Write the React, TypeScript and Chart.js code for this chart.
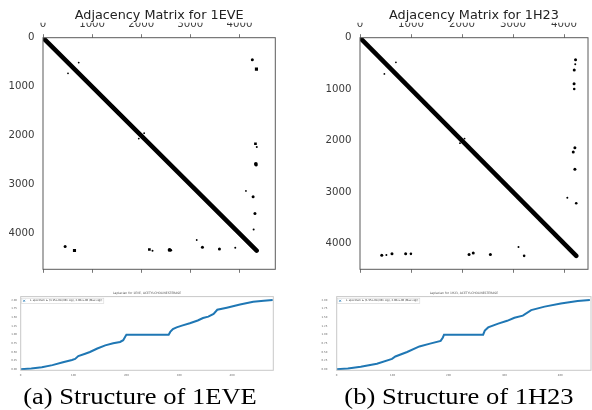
import React, { useEffect, useRef } from "react";
import { Chart, registerables } from "chart.js";

Chart.register(...registerables);

// ---------- Adjacency matrices ----------
const matrixTicks = [0, 1000, 2000, 3000, 4000];

const eveTitle = "Adjacency Matrix for 1EVE";
const eveExtent = 4730;
const eveDiagonal = [0, 4350];
const eveLinkHigh = [4262, 4346, 4326, 4353, 4334, 4340, 4132, 4278, 4316, 4289, 727, 2060];
const eveLinkLow = [451, 641, 2166, 2230, 2577, 2603, 3130, 3246, 3592, 3915, 509, 1950];
const eveLinkRadius = [1.5, 2.2, 1.9, 1, 1.9, 1.3, 0.9, 1.5, 1.5, 1, 0.9, 0.9];
const eveLinkSquare = [false, true, true, false, false, false, false, false, false, false, false, false];

const h23Title = "Adjacency Matrix for 1H23";
const h23ExtentX = 4470;
const h23ExtentY = 4500;
const h23Diagonal = [0, 4240];
const h23LinkHigh = [4226, 4220, 4200, 4197, 4200, 4213, 4181, 4213, 4065, 4239, 704, 2050];
const h23LinkLow = [427, 517, 627, 895, 998, 2138, 2220, 2556, 3108, 3218, 478, 1960];
const h23LinkRadius = [1.5, 1, 1.5, 1.5, 1.3, 1.5, 1.5, 1.5, 1, 1.3, 0.9, 0.9];
const h23LinkSquare = [false, false, false, false, false, false, false, false, false, false, false, false];

// ---------- Laplacian spectra ----------
const spectrumXTicks = [0, 100, 200, 300, 400];
const spectrumYTicks = [0, 0.25, 0.5, 0.75, 1.0, 1.25, 1.5, 1.75, 2.0];

const eveSpectrumTitle = "Laplacian for 1EVE, ACETYLCHOLINESTERASE";
const eveSpectrumLabel = "L_spectrum \u2208 [3.15e-08 (Min eig), 2.00e+00 (Max eig)]";
const eveCount = 478;
const eveIndex = [0, 20, 40, 60, 80, 97, 103, 109, 122, 131, 145, 160, 175, 188, 194, 198, 200, 280, 283, 288, 295, 305, 320, 335, 345, 355, 365, 372, 390, 415, 440, 460, 477];
const eveEigen = [0, 0.02, 0.06, 0.12, 0.2, 0.27, 0.3, 0.38, 0.45, 0.5, 0.6, 0.69, 0.75, 0.79, 0.84, 0.95, 1.0, 1.0, 1.08, 1.16, 1.21, 1.26, 1.33, 1.41, 1.48, 1.52, 1.6, 1.72, 1.78, 1.87, 1.95, 1.98, 2.0];

const h23SpectrumTitle = "Laplacian for 1H23, ACETYLCHOLINESTERASE";
const h23SpectrumLabel = "L_spectrum \u2208 [1.55e-08 (Min eig), 2.00e+00 (Max eig)]";
const h23Count = 455;
const h23Index = [0, 20, 43, 72, 99, 105, 126, 148, 167, 186, 190, 192, 262, 265, 271, 289, 305, 318, 333, 348, 372, 401, 431, 453];
const h23Eigen = [0, 0.02, 0.07, 0.16, 0.3, 0.37, 0.5, 0.66, 0.74, 0.82, 0.92, 1.0, 1.0, 1.12, 1.21, 1.32, 1.4, 1.49, 1.55, 1.71, 1.81, 1.9, 1.97, 2.0];

const captionLeft = "(a) Structure of 1EVE";
const captionRight = "(b) Structure of 1H23";

const DEJAVU = "'DejaVu Sans', sans-serif";

function makeFrame(color: string, width: number) {
  return {
    id: "frame",
    afterDatasetsDraw(chart: any) {
      const { ctx, chartArea: a } = chart;
      ctx.save();
      ctx.strokeStyle = color;
      ctx.lineWidth = width;
      ctx.strokeRect(a.left, a.top, a.right - a.left, a.bottom - a.top);
      ctx.restore();
    },
  };
}

// matplotlib-style legend inside the upper-left corner of the plot area
const insideLegend = {
  id: "insideLegend",
  afterDatasetsDraw(chart: any) {
    const { ctx, chartArea: a } = chart;
    const ds = chart.data.datasets[0];
    const text = String(ds.label);
    ctx.save();
    ctx.font = "2.6px 'DejaVu Sans', sans-serif";
    const tw = ctx.measureText(text).width;
    const bx = a.left + 0.8;
    const by = a.top + 1.6;
    const bw = tw + 10;
    const bh = 5.2;
    ctx.fillStyle = "#fff";
    ctx.strokeStyle = "#d4d4d4";
    ctx.lineWidth = 0.6;
    ctx.fillRect(bx, by, bw, bh);
    ctx.strokeRect(bx, by, bw, bh);
    const mx = bx + 2.6;
    const my = by + bh / 2;
    ctx.strokeStyle = ds.borderColor;
    ctx.lineWidth = 0.7;
    ctx.beginPath();
    ctx.moveTo(mx - 1, my - 1);
    ctx.lineTo(mx + 1, my + 1);
    ctx.moveTo(mx - 1, my + 1);
    ctx.lineTo(mx + 1, my - 1);
    ctx.stroke();
    ctx.fillStyle = "#333";
    ctx.textBaseline = "middle";
    ctx.textAlign = "left";
    ctx.fillText(text, bx + 8.5, my);
    ctx.restore();
  },
};

const setTicks = (values: number[]) => (s: any) => {
  s.ticks = values.map((v) => ({ value: v }));
};

function matrixConfig(
  title: string,
  extentX: number,
  extentY: number,
  diagonal: number[],
  high: number[],
  low: number[],
  radius: number[],
  square: boolean[],
  yAxisWidth: number,
  rightPad: number
): any {
  const pts: any[] = [];
  const radii: number[] = [];
  const styles: string[] = [];
  high.forEach((h, i) => {
    pts.push({ x: h, y: low[i] }, { x: low[i], y: h });
    radii.push(radius[i], radius[i]);
    const st = square[i] ? "rect" : "circle";
    styles.push(st, st);
  });
  const tickFont = { family: DEJAVU, size: 10.2 };
  return {
    type: "scatter",
    data: {
      datasets: [
        {
          data: diagonal.map((v) => ({ x: v, y: v })),
          showLine: true,
          borderColor: "#000",
          borderWidth: 4.5,
          borderCapStyle: "round",
          pointRadius: 0,
          clip: 0,
        },
        {
          data: pts,
          pointRadius: radii,
          pointStyle: styles,
          backgroundColor: "#000",
          borderColor: "#000",
          borderWidth: 0,
          clip: 0,
        },
      ],
    },
    options: {
      animation: false,
      responsive: false,
      devicePixelRatio: 1,
      events: [],
      layout: { padding: { left: 0, right: rightPad, top: 0, bottom: 11.7 } },
      plugins: {
        legend: { display: false },
        tooltip: { enabled: false },
        title: {
          display: true,
          text: title,
          fullSize: false,
          color: "#222",
          font: { family: DEJAVU, size: 12.8, weight: "normal" },
          padding: { top: 7.5, bottom: 0 },
        },
      },
      scales: {
        x: {
          type: "linear",
          position: "top",
          min: 0,
          max: extentX,
          afterBuildTicks: setTicks(matrixTicks),
          afterFit: (s: any) => {
            s.height = 14.84;
          },
          border: { display: false },
          grid: { drawOnChartArea: false, drawTicks: true, tickLength: 3.5, color: "#777" },
          ticks: { font: tickFont, color: "#3a3a3a", padding: 4, maxRotation: 0, autoSkip: false, callback: (v: any) => String(v) },
        },
        x2: {
          type: "linear",
          axis: "x",
          position: "bottom",
          min: 0,
          max: extentX,
          afterBuildTicks: setTicks(matrixTicks),
          afterFit: (s: any) => {
            s.height = 4;
          },
          border: { display: false },
          grid: { drawOnChartArea: false, drawTicks: true, tickLength: 3.5, color: "#777" },
          ticks: { display: false },
        },
        y: {
          type: "linear",
          reverse: true,
          min: 0,
          max: extentY,
          afterBuildTicks: setTicks(matrixTicks),
          afterFit: (s: any) => {
            s.width = yAxisWidth;
          },
          border: { display: false },
          grid: { drawOnChartArea: false, drawTicks: false },
          ticks: { font: tickFont, color: "#3a3a3a", padding: 8.5, autoSkip: false, callback: (v: any) => String(v) },
        },
      },
    },
    plugins: [makeFrame("#5a5a5a", 1)],
  };
}

function spectrumConfig(
  title: string,
  label: string,
  count: number,
  index: number[],
  eigen: number[],
  yAxisWidth: number,
  yPad: number,
  rightPad: number
): any {
  const small = { family: DEJAVU, size: 2.6 };
  return {
    type: "scatter",
    data: {
      datasets: [
        {
          label,
          data: index.map((x, i) => ({ x, y: eigen[i] })),
          showLine: true,
          borderColor: "#1f77b4",
          backgroundColor: "#1f77b4",
          borderWidth: 2,
          pointRadius: 0,
        },
      ],
    },
    options: {
      animation: false,
      responsive: false,
      devicePixelRatio: 1,
      events: [],
      layout: { padding: { left: 0, right: rightPad, top: 0, bottom: 0 } },
      plugins: {
        tooltip: { enabled: false },
        legend: { display: false },
        title: {
          display: true,
          text: title,
          fullSize: false,
          color: "#555",
          font: { family: DEJAVU, size: 3, weight: "normal" },
          padding: { top: 6.6, bottom: 1.4 },
        },
      },
      scales: {
        x: {
          type: "linear",
          min: 0,
          max: count,
          afterBuildTicks: setTicks(spectrumXTicks),
          afterFit: (s: any) => {
            s.height = 14.7;
          },
          border: { display: false },
          grid: { display: false, drawTicks: false },
          ticks: { font: small, color: "#666", padding: 3.4, maxRotation: 0, autoSkip: false, callback: (v: any) => String(v) },
        },
        y: {
          type: "linear",
          min: -0.03,
          max: 2.1,
          afterBuildTicks: setTicks(spectrumYTicks),
          afterFit: (s: any) => {
            s.width = yAxisWidth;
          },
          border: { display: false },
          grid: { display: false, drawTicks: false },
          ticks: { font: small, color: "#666", padding: yPad, autoSkip: false, callback: (v: any) => Number(v).toFixed(2) },
        },
      },
    },
    plugins: [makeFrame("#c8c8c8", 1), insideLegend],
  };
}

function ChartCanvas(props: { left: number; top: number; width: number; height: number; build: () => any }) {
  const ref = useRef<HTMLCanvasElement | null>(null);
  useEffect(() => {
    const chart = new Chart(ref.current as HTMLCanvasElement, props.build());
    return () => chart.destroy();
  }, []);
  return (
    <canvas
      ref={ref}
      width={props.width}
      height={props.height}
      style={{ position: "absolute", left: props.left, top: props.top, width: props.width, height: props.height }}
    />
  );
}

function Caption(props: { text: string; center: number }) {
  const w = 300;
  return (
    <div
      style={{
        position: "absolute",
        left: props.center - w / 2,
        top: 386,
        width: w,
        textAlign: "center",
        fontFamily: "'Liberation Serif', 'Times New Roman', serif",
        fontSize: 22.5,
        lineHeight: "22px",
        color: "#000",
        whiteSpace: "nowrap",
        transform: "scaleX(1.18)",
        transformOrigin: "center",
      }}
    >
      {props.text}
    </div>
  );
}

export default function App() {
  return (
    <div style={{ position: "fixed", left: 0, top: 0, width: 592, height: 410, background: "#fff", overflow: "hidden" }}>
      <ChartCanvas
        left={0}
        top={0}
        width={296}
        height={285}
        build={() =>
          matrixConfig(eveTitle, eveExtent, eveExtent, eveDiagonal, eveLinkHigh, eveLinkLow, eveLinkRadius, eveLinkSquare, 43, 20.7)
        }
      />
      <ChartCanvas
        left={296}
        top={0}
        width={296}
        height={285}
        build={() =>
          matrixConfig(h23Title, h23ExtentX, h23ExtentY, h23Diagonal, h23LinkHigh, h23LinkLow, h23LinkRadius, h23LinkSquare, 64, 1)
        }
      />
      <ChartCanvas
        left={0}
        top={285}
        width={296}
        height={100}
        build={() => spectrumConfig(eveSpectrumTitle, eveSpectrumLabel, eveCount, eveIndex, eveEigen, 20.7, 3.7, 22.7)}
      />
      <ChartCanvas
        left={296}
        top={285}
        width={296}
        height={100}
        build={() => spectrumConfig(h23SpectrumTitle, h23SpectrumLabel, h23Count, h23Index, h23Eigen, 40.7, 9.4, 1)}
      />
      <Caption text={captionLeft} center={140} />
      <Caption text={captionRight} center={459} />
    </div>
  );
}
